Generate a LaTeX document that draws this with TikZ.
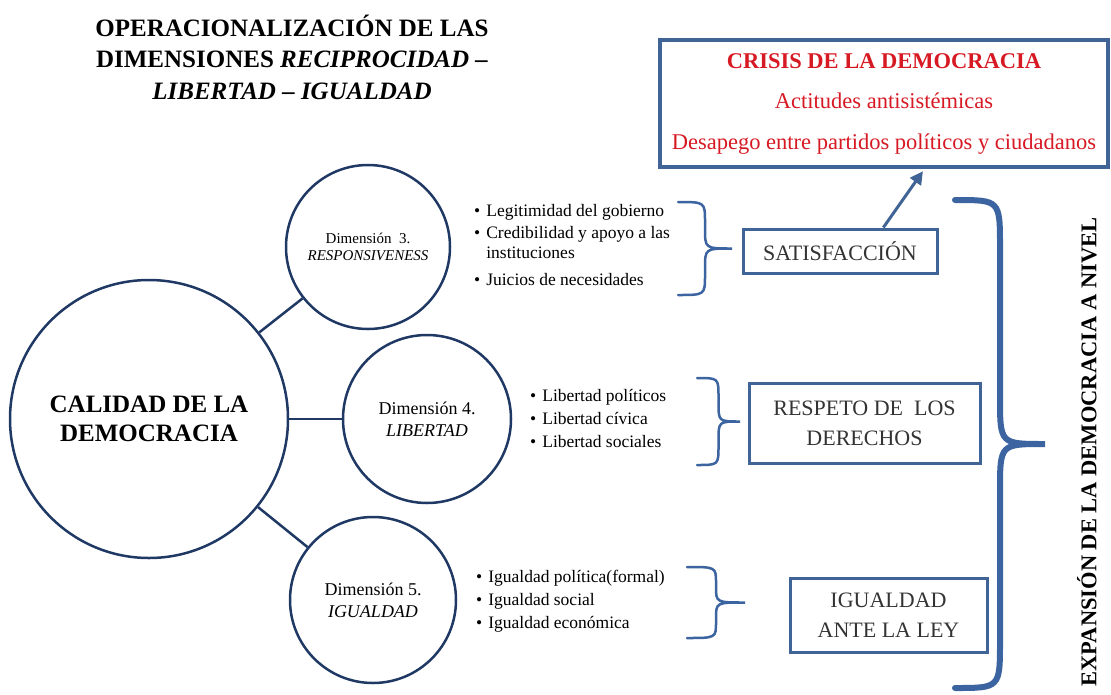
\documentclass[tikz,border=0pt]{standalone}
\usepackage{fontspec}
\setmainfont{Liberation Serif}
\usepackage{xcolor}
\usepackage{tikz}
\usetikzlibrary{
    arrows.meta,
    positioning,
    calc
}
\definecolor{azulcirculo}{RGB}{31,56,100}
\definecolor{azulcaja}{RGB}{65,100,150}
\definecolor{azulllave}{RGB}{60,100,160}
\definecolor{rojocrisis}{RGB}{215,25,35}
\tikzset{
    circulo/.style={
        circle,
        draw=azulcirculo,
        line width=2.5pt,
        align=center,
        inner sep=0pt
    }
}
\tikzset{
    caja/.style={
        draw=azulcaja,
        line width=3pt,
        align=center,
        text=black!80,
        font=\fontsize{22}{30}\selectfont
    }
}
\tikzset{
    lista/.style={
        anchor=west,
        inner sep=0pt,
        font=\fontsize{17.5}{20}\selectfont
    }
}
\tikzset{
    union/.style={
        draw=azulcirculo,
        line width=2.5pt
    }
}
\tikzset{
    llavelinea/.style={
        draw=azulllave,
        line width=2.5pt,
        line cap=round
    }
}
% brace: [options]{x left}{y top}{y bottom}{width}{vertical radius}
\newcommand{\llave}[6][]{%
    \pgfmathsetmacro{\llym}{(#3+#4)/2}%
    \pgfmathsetmacro{\llxa}{#2+#5/2}%
    \pgfmathsetmacro{\llxt}{#2+#5}%
    \draw[llavelinea,#1] (#2,#3) .. controls (\llxa,#3) .. (\llxa,#3+#6)
        -- (\llxa,\llym-#6) .. controls (\llxa,\llym) .. (\llxt,\llym)
        .. controls (\llxa,\llym) .. (\llxa,\llym+#6)
        -- (\llxa,#4-#6) .. controls (\llxa,#4) .. (#2,#4);
}

\begin{document}
\begin{tikzpicture}[
    x=1pt, y=-1pt
]
\useasboundingbox (0,0) rectangle (1111,694);

% =========================================================
% Title
% =========================================================

\node[
    align=center,
    font=\fontsize{25}{31.5}\selectfont\bfseries
] (titulo) at (292,57) {
    OPERACIONALIZACIÓN DE LAS\\
    DIMENSIONES \textit{RECIPROCIDAD –}\\
    \textit{LIBERTAD – IGUALDAD}
};

% =========================================================
% Circles
% =========================================================

\node[circulo, minimum size=278pt,
    font=\fontsize{25}{29}\selectfont\bfseries] (calidad) at (149,419) {
    CALIDAD DE LA\\ DEMOCRACIA
};

\node[circulo, minimum size=164pt,
    font=\fontsize{15}{17}\selectfont] (dim3) at (368,247) {
    Dimensión~~3.\\ \textit{RESPONSIVENESS}
};

\node[circulo, minimum size=168pt,
    font=\fontsize{18}{22}\selectfont] (dim4) at (427,419) {
    Dimensión 4.\\ \textit{LIBERTAD}
};

\node[circulo, minimum size=166pt,
    font=\fontsize{18}{22}\selectfont] (dim5) at (373,600) {
    Dimensión 5.\\ \textit{IGUALDAD}
};

\draw[union] (calidad) -- (dim3);
\draw[union] (calidad) -- (dim4);
\draw[union] (calidad) -- (dim5);

% =========================================================
% Lists
% =========================================================

\node[lista] (lista3) at (474,247) {
    \begin{tabular}{@{}c@{\hspace{6pt}}l@{}}
        • & Legitimidad del gobierno \\[2pt]
        • & Credibilidad y apoyo a las \\
          & instituciones \\[7pt]
        • & Juicios de necesidades \\
    \end{tabular}
};

\node[lista] (lista4) at (530,420) {
    \begin{tabular}{@{}c@{\hspace{6pt}}l@{}}
        • & Libertad políticos \\[3pt]
        • & Libertad cívica \\[3pt]
        • & Libertad sociales \\
    \end{tabular}
};

\node[lista] (lista5) at (476,601) {
    \begin{tabular}{@{}c@{\hspace{6pt}}l@{}}
        • & Igualdad política(formal) \\[3pt]
        • & Igualdad social \\[3pt]
        • & Igualdad económica \\
    \end{tabular}
};

\llave{678}{202}{295}{54}{20}
\llave{697}{378}{465}{43}{19}
\llave{687}{567}{638}{58}{16}

% =========================================================
% Result boxes
% =========================================================

\node[caja, minimum width=194pt, minimum height=44pt] (satisfaccion)
    at (840,251) {SATISFACCIÓN};

\node[caja, minimum width=231pt, minimum height=80pt] (respeto)
    at (864.5,423) {RESPETO DE~~LOS\\ DERECHOS};

\node[caja, minimum width=197pt, minimum height=74pt] (igualdad)
    at (888.5,615) {IGUALDAD\\ ANTE LA LEY};

% =========================================================
% Crisis
% =========================================================

\node[
    caja,
    line width=3.5pt,
    minimum width=448pt,
    minimum height=127pt,
    text=rojocrisis,
    font=\fontsize{22.5}{40.5}\selectfont
] (crisis) at (884,103.5) {
    \textbf{CRISIS DE LA DEMOCRACIA}\\
    Actitudes antisistémicas\\
    Desapego entre partidos políticos y ciudadanos
};

\draw[
    draw=azulcaja,
    line width=3pt,
    shorten >=3pt,
    -{Triangle[length=13pt,width=13pt]}
] ($(satisfaccion.north west)!0.72!(satisfaccion.north east)$)
    -- ($(crisis.south west)!0.59!(crisis.south east)$);

% =========================================================
% Expansion
% =========================================================

\llave[line width=6pt]{955}{200}{688}{90}{47}

\node[
    rotate=90,
    font=\fontsize{22.5}{27}\selectfont\bfseries
] (expansion) at (1087,452) {EXPANSIÓN DE LA DEMOCRACIA A NIVEL};

\end{tikzpicture}
\end{document}
